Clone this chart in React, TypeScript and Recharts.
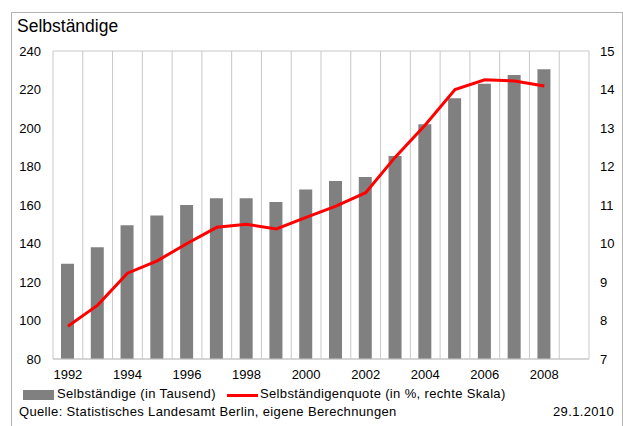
import React from 'react';
import { ComposedChart, Bar, Line, XAxis, YAxis, CartesianGrid } from 'recharts';

const years = ['1992', '1993', '1994', '1995', '1996', '1997', '1998', '1999', '2000',
  '2001', '2002', '2003', '2004', '2005', '2006', '2007', '2008', '2009'];
const selbstaendige = [129.5, 138, 149.5, 154.5, 160, 163.5, 163.5, 161.5, 168,
  172.5, 174.5, 185.5, 202, 215.5, 223, 227.5, 230.5, null];
const quote = [7.85, 8.4, 9.23, 9.55, 10.0, 10.42, 10.5, 10.38, 10.68,
  10.97, 11.32, 12.25, 13.08, 14.0, 14.25, 14.22, 14.09, null];
const leftTicks = [80, 100, 120, 140, 160, 180, 200, 220, 240];
const rightTicks = [7, 8, 9, 10, 11, 12, 13, 14, 15];

const data = years.map((year, i) => ({
  year,
  selbst: selbstaendige[i],
  quote: quote[i],
}));

const font = '"Liberation Sans", Arial, sans-serif';
const tickStyle = { fontSize: 13, fill: '#000', fontFamily: font };
const textStyle: React.CSSProperties = { position: 'absolute', fontSize: 13, letterSpacing: 0.35, whiteSpace: 'nowrap' };

const App: React.FC = () => {
  return (
    <div style={{ position: 'fixed', left: 0, top: 0, width: 623, height: 426, background: '#fff', overflow: 'hidden', fontFamily: font }}>
      <div style={{ position: 'absolute', left: 11, top: 12, width: 610, height: 440, border: '1px solid #b4b4b4' }} />
      <div style={{ position: 'absolute', left: 17, top: 16, fontSize: 17.5, color: '#000' }}>Selbständige</div>
      <ComposedChart
        width={623}
        height={426}
        data={data}
        margin={{ top: 51, right: 0, left: 0, bottom: 37 }}
        style={{ position: 'absolute', left: 0, top: 0 }}
      >
        <CartesianGrid
          stroke="#c8c8c8"
          strokeWidth={1}
          verticalCoordinatesGenerator={({ offset }: any) =>
            years.map((_, i) => offset.left + (i * offset.width) / years.length).concat(offset.left + offset.width)
          }
        />
        <XAxis
          dataKey="year"
          interval={1}
          tickLine={false}
          axisLine={{ stroke: '#c8c8c8' }}
          tickSize={0}
          tickMargin={11}
          height={30}
          tick={tickStyle}
        />
        <YAxis
          yAxisId="left"
          domain={[80, 240]}
          ticks={leftTicks}
          width={53}
          tickLine={false}
          axisLine={false}
          tickSize={0}
          tickMargin={12}
          tick={tickStyle}
        />
        <YAxis
          yAxisId="right"
          orientation="right"
          domain={[7, 15]}
          ticks={rightTicks}
          width={34}
          tickLine={false}
          axisLine={false}
          tickSize={0}
          tickMargin={11}
          tick={{ ...tickStyle, textAnchor: 'start' }}
        />
        <Bar yAxisId="left" dataKey="selbst" fill="#808080" barSize={13} isAnimationActive={false} />
        <Line
          yAxisId="right"
          dataKey="quote"
          type="linear"
          stroke="#ff0000"
          strokeWidth={3}
          dot={false}
          isAnimationActive={false}
        />
      </ComposedChart>
      <div style={{ position: 'absolute', left: 23, top: 390, width: 31, height: 10, background: '#808080' }} />
      <div style={{ ...textStyle, left: 57, top: 386 }}>Selbständige (in Tausend)</div>
      <div style={{ position: 'absolute', left: 227, top: 393.5, width: 31, height: 3, background: '#ff0000' }} />
      <div style={{ ...textStyle, left: 260, top: 386 }}>Selbständigenquote (in %, rechte Skala)</div>
      <div style={{ ...textStyle, left: 19, top: 404 }}>Quelle: Statistisches Landesamt Berlin, eigene Berechnungen</div>
      <div style={{ ...textStyle, right: 9, top: 404 }}>29.1.2010</div>
    </div>
  );
};

export default App;
